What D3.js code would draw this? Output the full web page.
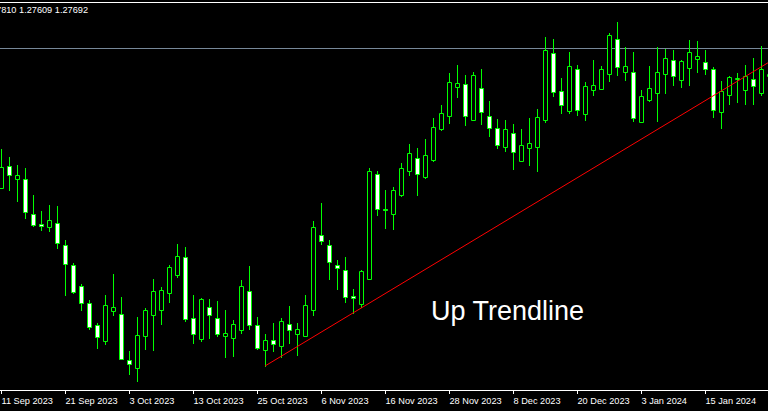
<!DOCTYPE html>
<html>
<head>
<meta charset="utf-8">
<script src="https://cdn.jsdelivr.net/npm/d3@7"></script>
<style>
  body { margin: 0; background: #000; overflow: hidden; }
  svg { display: block; }
</style>
</head>
<body>
<div id="chart"></div>
<script>
// daily GBPUSD candles, 11 Sep 2023 .. 19 Jan 2024 (visible part)
var tickLabels = ["11 Sep 2023", "21 Sep 2023", "3 Oct 2023", "13 Oct 2023", "25 Oct 2023", "6 Nov 2023",
                  "16 Nov 2023", "28 Nov 2023", "8 Dec 2023", "20 Dec 2023", "3 Jan 2024", "15 Jan 2024"];
var tickIndex = [0, 8, 16, 24, 32, 40, 48, 56, 64, 72, 80, 88];

var opens = [1.2524,1.2568,1.2542,1.2542,1.2472,1.2452,1.2446,1.2454,1.2410,1.2370,
             1.2328,1.2294,1.2250,1.2218,1.2278,1.2272,1.2180,1.2164,1.2228,1.2270,
             1.2280,1.2314,1.2350,1.2386,1.2264,1.2222,1.2286,1.2264,1.2228,1.2224,
             1.2240,1.2318,1.2250,1.2200,1.2220,1.2208,1.2252,1.2232,1.2228,1.2280,
             1.2430,1.2410,1.2370,1.2360,1.2308,1.2292,1.2342,1.2552,1.2482,1.2472,
             1.2510,1.2558,1.2584,1.2546,1.2580,1.2642,1.2668,1.2726,1.2732,1.2660,
             1.2724,1.2668,1.2644,1.2606,1.2634,1.2578,1.2604,1.2606,1.2660,1.2794,
             1.2718,1.2678,1.2762,1.2672,1.2720,1.2722,1.2752,1.2822,1.2756,1.2756,
             1.2656,1.2700,1.2714,1.2752,1.2780,1.2740,1.2764,1.2782,1.2776,1.2762,
             1.2676,1.2710,1.2742,1.2720,1.2742,1.2714,1.2748];
var highs = [1.2602,1.2586,1.2570,1.2564,1.2510,1.2478,1.2490,1.2488,1.2420,1.2374,
             1.2332,1.2300,1.2254,1.2310,1.2352,1.2306,1.2198,1.2266,1.2284,1.2342,
             1.2326,1.2370,1.2412,1.2406,1.2310,1.2304,1.2302,1.2298,1.2280,1.2260,
             1.2340,1.2368,1.2266,1.2232,1.2254,1.2264,1.2288,1.2254,1.2310,1.2458,
             1.2494,1.2420,1.2380,1.2386,1.2322,1.2360,1.2564,1.2558,1.2520,1.2526,
             1.2574,1.2612,1.2604,1.2622,1.2664,1.2690,1.2754,1.2770,1.2750,1.2756,
             1.2762,1.2698,1.2662,1.2660,1.2652,1.2642,1.2664,1.2682,1.2826,1.2822,
             1.2744,1.2796,1.2770,1.2736,1.2780,1.2768,1.2834,1.2856,1.2806,1.2796,
             1.2720,1.2768,1.2806,1.2802,1.2800,1.2780,1.2820,1.2818,1.2800,1.2766,
             1.2738,1.2748,1.2754,1.2770,1.2784,1.2808,1.2776];
var lows =  [1.2524,1.2520,1.2498,1.2464,1.2448,1.2440,1.2438,1.2404,1.2310,1.2314,
             1.2280,1.2242,1.2204,1.2212,1.2270,1.2182,1.2152,1.2138,1.2202,1.2200,
             1.2252,1.2296,1.2346,1.2258,1.2214,1.2218,1.2224,1.2228,1.2186,1.2188,
             1.2234,1.2242,1.2202,1.2168,1.2198,1.2186,1.2214,1.2190,1.2228,1.2270,
             1.2412,1.2342,1.2322,1.2296,1.2274,1.2286,1.2342,1.2470,1.2444,1.2442,
             1.2508,1.2550,1.2510,1.2544,1.2578,1.2640,1.2654,1.2706,1.2650,1.2660,
             1.2652,1.2628,1.2604,1.2598,1.2562,1.2578,1.2570,1.2558,1.2656,1.2708,
             1.2674,1.2674,1.2670,1.2660,1.2710,1.2722,1.2738,1.2750,1.2740,1.2658,
             1.2656,1.2698,1.2658,1.2714,1.2730,1.2726,1.2730,1.2756,1.2752,1.2666,
             1.2644,1.2692,1.2696,1.2692,1.2692,1.2710,1.2730];
var closes = [1.2566,1.2550,1.2550,1.2476,1.2450,1.2448,1.2460,1.2414,1.2372,1.2316,
             1.2294,1.2246,1.2226,1.2290,1.2286,1.2182,1.2172,1.2230,1.2280,1.2318,
             1.2320,1.2366,1.2388,1.2262,1.2232,1.2302,1.2270,1.2232,1.2234,1.2252,
             1.2328,1.2250,1.2204,1.2220,1.2212,1.2258,1.2240,1.2242,1.2290,1.2446,
             1.2418,1.2376,1.2364,1.2306,1.2304,1.2358,1.2558,1.2482,1.2480,1.2520,
             1.2564,1.2594,1.2552,1.2590,1.2646,1.2674,1.2736,1.2734,1.2668,1.2750,
             1.2676,1.2644,1.2610,1.2642,1.2596,1.2610,1.2614,1.2666,1.2800,1.2716,
             1.2690,1.2768,1.2680,1.2728,1.2730,1.2762,1.2830,1.2766,1.2768,1.2664,
             1.2708,1.2724,1.2756,1.2784,1.2748,1.2778,1.2796,1.2788,1.2762,1.2680,
             1.2718,1.2746,1.2744,1.2748,1.2728,1.2762,1.2752];

var bidPrice = 1.2804;
var trendStart = [33, 1.2168];   // [candle index, price]
var trendEnd = [95, 1.2766];
var headerText = "GBPUSD,Daily  1.27798 1.27810 1.27609 1.27692";
var noteText = "Up Trendline";

var width = 768, height = 411;

var svg = d3.select("#chart").append("svg")
    .attr("width", width)
    .attr("height", height)
    .style("background", "#000");

// index -> pixel column, price -> pixel row
var x = d3.scaleLinear().domain([0, 96]).range([1, 769]);
var y = d3.scaleLinear().domain([1.21, 1.29]).range([400, 0]);

var candles = opens.map(function(o, i) {
  return {i: i, o: o, h: highs[i], l: lows[i], c: closes[i]};
});

// frame line at top
svg.append("line")
    .attr("x1", 0).attr("x2", width)
    .attr("y1", 2.5).attr("y2", 2.5)
    .attr("stroke", "#fff");

svg.append("text")
    .attr("x", 88).attr("y", 13)
    .attr("text-anchor", "end")
    .attr("fill", "#fff")
    .style("font", "9.2px 'Liberation Sans', Arial, sans-serif")
    .text(headerText);

// bid line
svg.append("line")
    .attr("x1", 0).attr("x2", width)
    .attr("y1", Math.round(y(bidPrice)) + 0.5)
    .attr("y2", Math.round(y(bidPrice)) + 0.5)
    .attr("stroke", "#778899");

var g = svg.append("g");

// wicks
g.selectAll(".wick")
    .data(candles)
  .enter().append("line")
    .attr("class", "wick")
    .attr("x1", function(d) { return x(d.i) + 0.5; })
    .attr("x2", function(d) { return x(d.i) + 0.5; })
    .attr("y1", function(d) { return Math.round(y(d.h)); })
    .attr("y2", function(d) { return Math.round(y(d.l)) + 1; })
    .attr("stroke", "#00ff00");

// bodies: bull = black, bear = white
g.selectAll(".body")
    .data(candles)
  .enter().append("path")
    .attr("class", "body")
    .attr("d", function(d) {
      var top = Math.round(y(Math.max(d.o, d.c)));
      var bot = Math.round(y(Math.min(d.o, d.c)));
      var h = Math.max(bot - top, 1);
      var x0 = x(d.i) - 1.5;
      return "M" + x0 + "," + (top + 0.5) + "h4v" + h + "h-4Z";
    })
    .attr("fill", function(d) { return d.c > d.o ? "#000" : "#fff"; })
    .attr("stroke", "#00ff00");

// trendline, extended to the right edge
var slope = (trendEnd[1] - trendStart[1]) / (trendEnd[0] - trendStart[0]);
var endIdx = x.invert(width);
svg.append("line")
    .attr("x1", x(trendStart[0]))
    .attr("y1", y(trendStart[1]))
    .attr("x2", x(endIdx))
    .attr("y2", y(trendStart[1] + slope * (endIdx - trendStart[0])))
    .attr("stroke", "#ff0000")
    .attr("stroke-width", 1);

svg.append("text")
    .attr("x", 431).attr("y", 319.5)
    .attr("fill", "#fff")
    .style("font", "27px 'Liberation Sans', Arial, sans-serif")
    .text(noteText);

// time axis
var xAxis = d3.axisBottom(x)
    .tickValues(tickIndex)
    .tickFormat(function(d, i) { return tickLabels[i]; })
    .tickSize(4)
    .tickPadding(3);

var ax = svg.append("g")
    .attr("transform", "translate(0,390)")
    .call(xAxis);
ax.select(".domain").remove();
ax.append("line")
    .attr("x1", 0).attr("x2", width)
    .attr("y1", 0.5).attr("y2", 0.5)
    .attr("stroke", "#fff");
ax.selectAll(".tick line").attr("stroke", "#fff");
ax.selectAll(".tick text")
    .attr("fill", "#fff")
    .attr("text-anchor", "start")
    .attr("x", 0)
    .style("font", "9.2px 'Liberation Sans', Arial, sans-serif");
</script>
</body>
</html>
